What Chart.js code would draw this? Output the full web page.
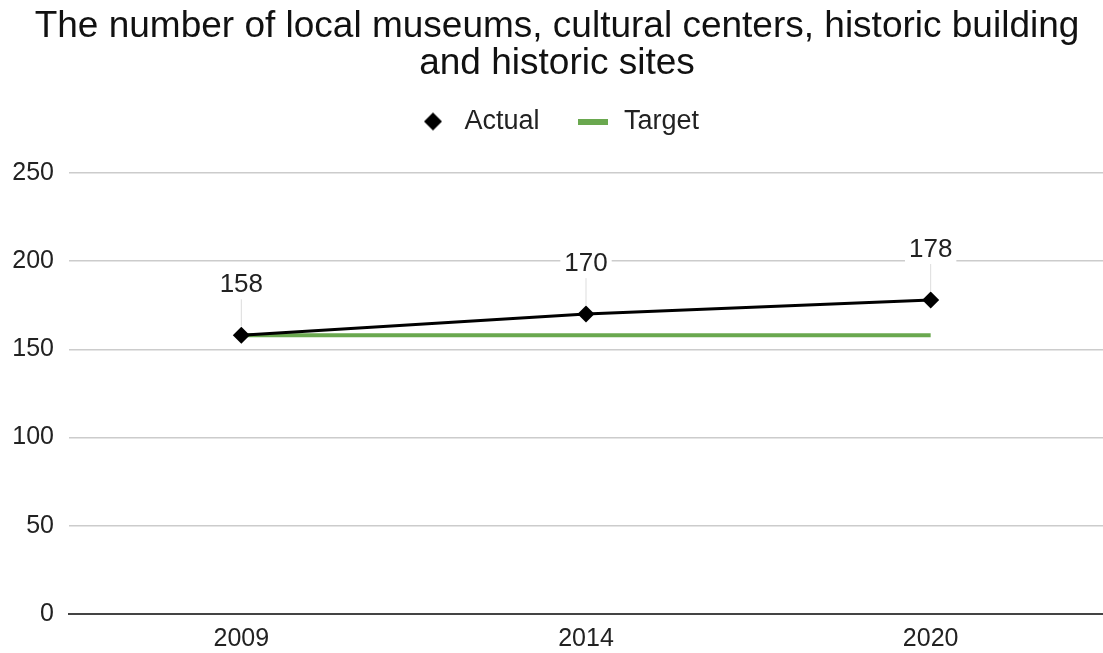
<!DOCTYPE html>
<html>
<head>
<meta charset="utf-8">
<script src="https://cdn.jsdelivr.net/npm/chart.js@4"></script>
<style>
  html, body { margin: 0; padding: 0; background: #fff; }
  #wrap { width: 1103px; height: 653px; }
</style>
</head>
<body>
<div id="wrap"><canvas id="myChart" width="1103" height="653"></canvas></div>
<script>
    // Data
    const years = ['2009', '2014', '2020'];
    const actual = [158, 170, 178];
    const target = [158, 158, 158];
    const yTicks = [0, 50, 100, 150, 200, 250];

    const FONT = '"Liberation Sans", Arial, Helvetica, sans-serif';
    const GREEN = '#6aa84f';

    // small canvases used as legend glyphs
    function diamondGlyph() {
      const c = document.createElement('canvas');
      c.width = 20; c.height = 20;
      const g = c.getContext('2d');
      g.fillStyle = '#000';
      g.beginPath();
      g.moveTo(10, 1); g.lineTo(19, 10); g.lineTo(10, 19); g.lineTo(1, 10);
      g.closePath(); g.fill();
      return c;
    }
    function barGlyph() {
      const c = document.createElement('canvas');
      c.width = 30; c.height = 6;
      const g = c.getContext('2d');
      g.fillStyle = GREEN;
      g.fillRect(0, 0, 30, 6);
      return c;
    }
    const glyphs = [diamondGlyph(), barGlyph()];

    // extra room under the legend
    const legendGap = {
      id: 'legendGap',
      beforeInit(chart) {
        const lg = chart.legend;
        if (!lg) return;
        const fit = lg.fit;
        lg.fit = function () {
          fit.call(this);
          this.height += 28;
        };
      }
    };

    // value labels above the Actual points, with a thin leader line
    const valueLabels = {
      id: 'valueLabels',
      afterDatasetsDraw(chart) {
        const ctx = chart.ctx;
        const meta = chart.getDatasetMeta(0);
        ctx.save();
        ctx.font = '26px ' + FONT;
        ctx.textAlign = 'center';
        ctx.textBaseline = 'middle';
        meta.data.forEach((pt, i) => {
          const txt = String(chart.data.datasets[0].data[i]);
          const ly = pt.y - 51;
          const w = ctx.measureText(txt).width + 8;
          ctx.strokeStyle = '#dddddd';
          ctx.lineWidth = 1;
          ctx.beginPath();
          ctx.moveTo(pt.x, ly + 15);
          ctx.lineTo(pt.x, pt.y - 9);
          ctx.stroke();
          ctx.fillStyle = '#fff';
          ctx.fillRect(pt.x - w / 2, ly - 14, w, 28);
          ctx.fillStyle = '#222';
          ctx.fillText(txt, pt.x, ly + 1);
        });
        ctx.restore();
      }
    };

    const ctx = document.getElementById('myChart').getContext('2d');

    const data = {
      labels: years,
      datasets: [
        {
          label: 'Actual',
          data: actual,
          borderColor: '#000',
          backgroundColor: '#000',
          borderWidth: 3,
          pointStyle: 'rectRot',
          pointRadius: 8.5,
          pointBackgroundColor: '#000',
          pointBorderWidth: 0,
          tension: 0,
          order: 0
        },
        {
          label: 'Target',
          data: target,
          borderColor: GREEN,
          backgroundColor: GREEN,
          borderWidth: 4,
          pointRadius: 0,
          tension: 0,
          order: 1
        }
      ]
    };

    const config = {
      type: 'line',
      data: data,
      options: {
        responsive: false,
        animation: false,
        layout: { autoPadding: false, padding: { left: 11, right: 0, top: 0, bottom: 1 } },
        plugins: {
          title: {
            display: true,
            text: ['The number of local museums, cultural centers, historic building', 'and historic sites'],
            color: '#111',
            font: { family: FONT, size: 37, weight: 'normal', lineHeight: 1.0 },
            padding: { top: 8, bottom: -9 }
          },
          legend: {
            labels: {
              usePointStyle: true,
              pointStyleWidth: 36,
              boxHeight: 13,
              padding: 35,
              color: '#222',
              font: { family: FONT, size: 27 },
              generateLabels(chart) {
                const items = Chart.defaults.plugins.legend.labels.generateLabels(chart);
                items.forEach((it, i) => { it.pointStyle = glyphs[i]; });
                return items;
              }
            }
          },
          tooltip: { enabled: false }
        },
        scales: {
          x: {
            offset: true,
            grid: { display: false, drawTicks: false },
            border: { display: true, color: '#444', width: 2 },
            ticks: { color: '#222', font: { family: FONT, size: 25 }, padding: 10 },
            afterFit(scale) { scale.height = 38; }
          },
          y: {
            min: 0,
            max: 250,
            afterBuildTicks(axis) { axis.ticks = yTicks.map(v => ({ value: v })); },
            grid: { color: '#cccccc', lineWidth: 1.5, drawTicks: false },
            border: { display: false },
            ticks: { color: '#222', font: { family: FONT, size: 25 }, padding: 15 },
            afterFit(scale) { scale.width = 58; }
          }
        }
      },
      plugins: [legendGap, valueLabels]
    };

    new Chart(ctx, config);
</script>
</body>
</html>
